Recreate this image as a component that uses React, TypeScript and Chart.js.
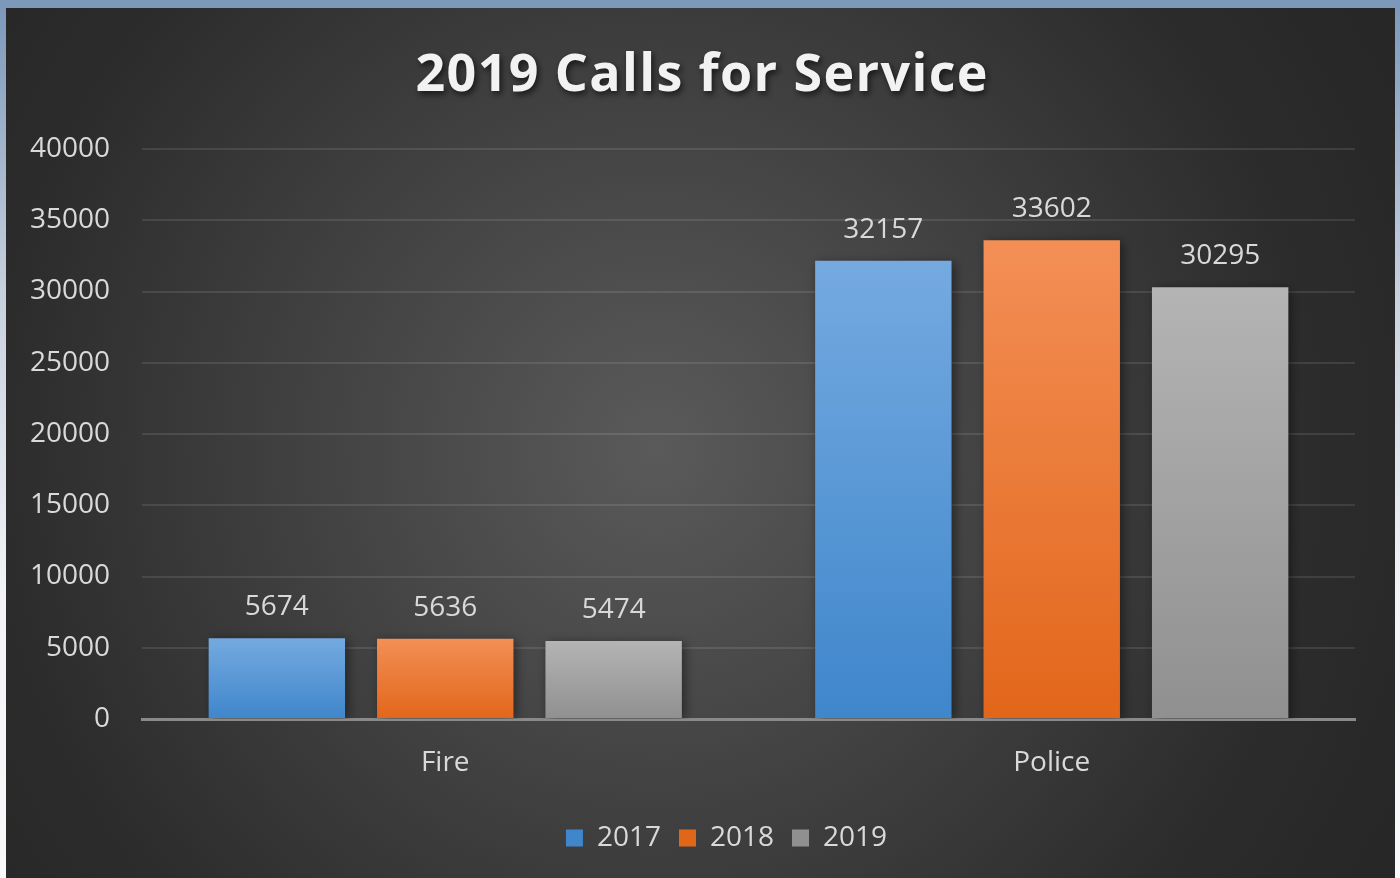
import React, { useEffect, useRef } from "react";
import { Chart, registerables } from "chart.js";

Chart.register(...registerables);

const TITLE = "2019 Calls for Service";
const categories = ["Fire", "Police"];
const seriesNames = ["2017", "2018", "2019"];
const values2017 = [5674, 32157];
const values2018 = [5636, 33602];
const values2019 = [5474, 30295];
const yTicks = [0, 5000, 10000, 15000, 20000, 25000, 30000, 35000, 40000];

const palette = [
  { top: "#74aae0", bottom: "#3f86cb", mid: "#5a9ad8" },
  { top: "#f38f56", bottom: "#e2661a", mid: "#ec7a34" },
  { top: "#b4b4b4", bottom: "#909090", mid: "#a5a5a5" },
];

const FONT = '"Open Sans", "Liberation Sans", sans-serif';
const TEXT = "#d9d9d9";

function gradientFill(idx: number) {
  return (c: any) => {
    const p = palette[idx];
    const chart = c.chart;
    if (!chart.chartArea || c.type !== "data" || !chart.scales.y) return p.mid;
    const v = c.raw as number;
    const yTop = chart.scales.y.getPixelForValue(v);
    const yBot = chart.scales.y.getPixelForValue(0);
    const g = chart.ctx.createLinearGradient(0, yTop, 0, yBot);
    g.addColorStop(0, p.top);
    g.addColorStop(1, p.bottom);
    return g;
  };
}

const backgroundPlugin = {
  id: "bgPlugin",
  afterLayout(chart: any) {
    if (chart.legend) {
      chart.legend.left += 46;
      chart.legend.right += 46;
    }
  },
  beforeDraw(chart: any) {
    const { ctx, width, height } = chart;
    ctx.save();
    const g = ctx.createRadialGradient(650, 440, 0, 650, 440, 820);
    g.addColorStop(0, "#5a5a5a");
    g.addColorStop(0.8, "#2c2c2c");
    g.addColorStop(1, "#272727");
    ctx.fillStyle = g;
    ctx.fillRect(0, 0, width, height);

    // title
    const fontSize = 52;
    ctx.font = `bold ${fontSize}px ${FONT}`;
    (ctx as any).letterSpacing = "0px";
    const w0 = ctx.measureText(TITLE).width;
    const targetW = 572;
    const n = TITLE.length;
    const spacing = (targetW - w0) / (n - 1);
    (ctx as any).letterSpacing = `${spacing}px`;
    const x = width / 2 + 1 - targetW / 2;
    ctx.textAlign = "left";
    ctx.textBaseline = "alphabetic";
    ctx.shadowColor = "rgba(0,0,0,0.65)";
    ctx.shadowBlur = 6;
    ctx.shadowOffsetX = 2;
    ctx.shadowOffsetY = 3;
    ctx.fillStyle = "#f2f2f2";
    ctx.fillText(TITLE, x, 83);
    (ctx as any).letterSpacing = "0px";
    ctx.restore();
  },
  beforeDatasetsDraw(chart: any) {
    const ctx = chart.ctx;
    ctx.save();
    ctx.shadowColor = "rgba(0,0,0,0.45)";
    ctx.shadowBlur = 10;
    ctx.shadowOffsetX = 3;
    ctx.shadowOffsetY = 2;
  },
  afterDatasetsDraw(chart: any) {
    const ctx = chart.ctx;
    ctx.restore();
    ctx.save();
    ctx.font = `28px ${FONT}`;
    ctx.fillStyle = TEXT;
    ctx.textAlign = "center";
    ctx.textBaseline = "alphabetic";
    chart.data.datasets.forEach((ds: any, i: number) => {
      const meta = chart.getDatasetMeta(i);
      meta.data.forEach((bar: any, j: number) => {
        ctx.fillText(String(ds.data[j]), bar.x, bar.y - 23);
      });
    });
    ctx.restore();
  },
};

export default function App() {
  const ref = useRef<HTMLCanvasElement | null>(null);
  useEffect(() => {
    document.body.style.margin = "0";
    const canvas = ref.current!;
    const chart = new Chart(canvas, {
      type: "bar",
      data: {
        labels: categories,
        datasets: [
          { label: seriesNames[0], data: values2017, backgroundColor: gradientFill(0) },
          { label: seriesNames[1], data: values2018, backgroundColor: gradientFill(1) },
          { label: seriesNames[2], data: values2019, backgroundColor: gradientFill(2) },
        ],
      },
      options: {
        responsive: false,
        animation: false,
        devicePixelRatio: 1,
        layout: { padding: { top: 141, left: 0, right: 40, bottom: 16 } },
        datasets: {
          bar: { categoryPercentage: 0.833, barPercentage: 0.81 },
        },
        plugins: {
          title: { display: false },
          tooltip: { enabled: false },
          legend: {
            position: "bottom",
            labels: {
              color: TEXT,
              font: { family: FONT, size: 28 },
              boxWidth: 17,
              boxHeight: 17,
              padding: 18,
            },
          },
        },
        scales: {
          x: {
            z: 1,
            grid: { display: false, drawTicks: false },
            border: { display: true, color: "#8a8a8a", width: 3 },
            ticks: { color: TEXT, font: { family: FONT, size: 28 }, padding: 27 },
            afterFit(s: any) {
              s.height = 87;
            },
          },
          y: {
            min: 0,
            max: 40000,
            afterBuildTicks(s: any) {
              s.ticks = yTicks.map((v) => ({ value: v }));
            },
            grid: {
              drawTicks: false,
              lineWidth: 2,
              color: (c: any) => (c.tick && c.tick.value === 0 ? "rgba(0,0,0,0)" : "rgba(255,255,255,0.1)"),
            },
            border: { display: false },
            ticks: {
              color: TEXT,
              font: { family: FONT, size: 28 },
              padding: 32,
              callback: (v: any) => String(v),
            },
            afterFit(s: any) {
              s.width = 136;
            },
          },
        },
      },
      plugins: [backgroundPlugin],
    } as any);
    let alive = true;
    (document as any).fonts?.ready?.then(() => {
      if (alive) chart.update();
    });
    return () => {
      alive = false;
      chart.destroy();
    };
  }, []);

  return (
    <div
      style={{
        position: "absolute",
        left: 0,
        top: 0,
        width: 1400,
        height: 878,
        overflow: "hidden",
        background: "linear-gradient(to bottom, #7b97b9 0%, #c8d2df 34%, #f2f4f7 68%, #f8f9fb 100%)",
      }}
    >
      <canvas
        ref={ref}
        width={1389}
        height={870}
        style={{ position: "absolute", left: 6, top: 8, width: 1389, height: 870, display: "block" }}
      />
    </div>
  );
}
